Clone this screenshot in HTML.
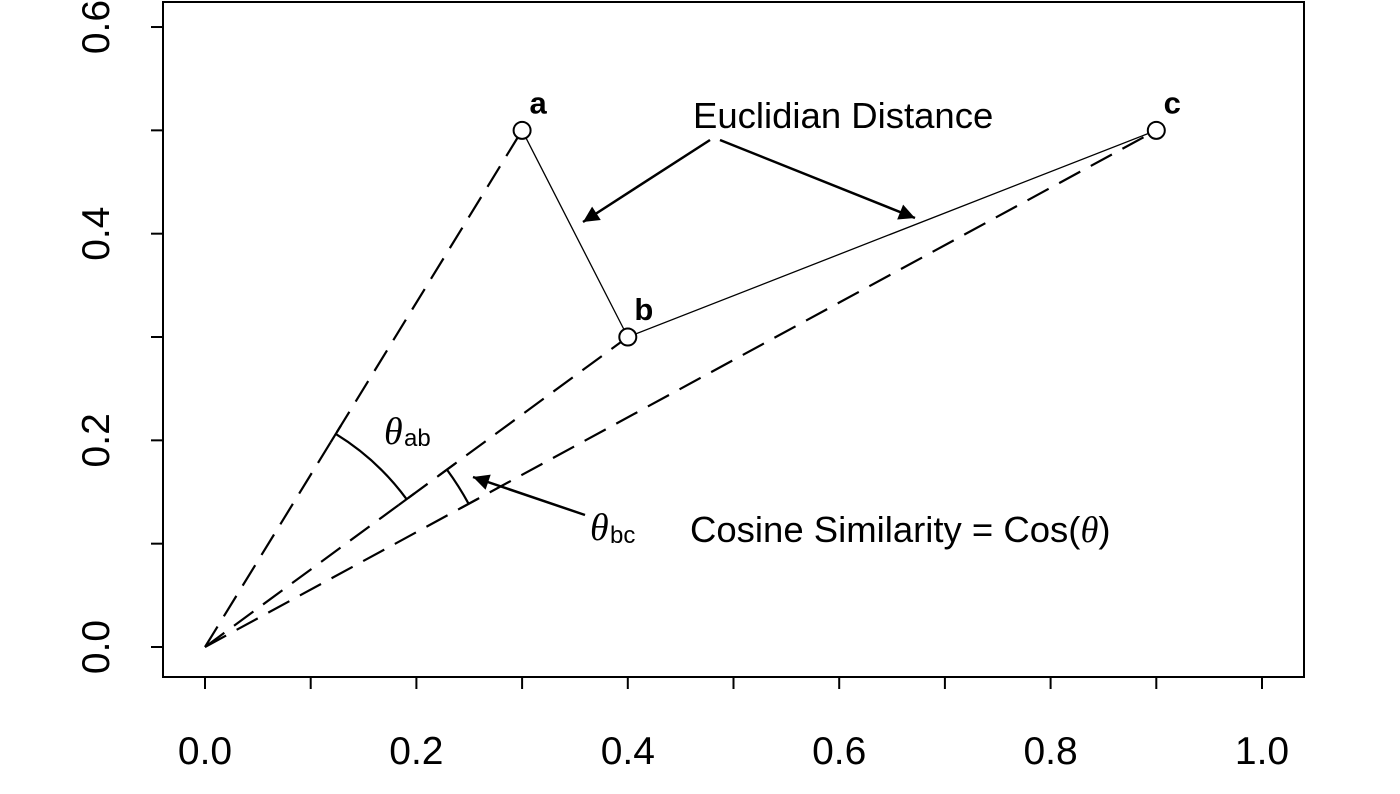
<!DOCTYPE html>
<html><head><meta charset="utf-8"><style>
html,body{margin:0;padding:0;background:#fff;}
svg{display:block;font-family:"Liberation Sans",Arial,sans-serif;}
</style></head><body>
<svg id="chart" width="1400" height="794" viewBox="0 0 1400 794">
<defs><marker id="ah2" viewBox="0 0 10 10" refX="10" refY="5" markerWidth="22" markerHeight="16" markerUnits="userSpaceOnUse" orient="auto"><path d="M0,0 L10,5 L0,10 z" fill="#000"/></marker></defs>
<g id="g"></g>
</svg>
<script>
const pointNames=['a','b','c'];
const pointX=[0.3,0.4,0.9];
const pointY=[0.5,0.3,0.5];
const xTicks=[0,0.1,0.2,0.3,0.4,0.5,0.6,0.7,0.8,0.9,1.0];
const xLabels=['0.0','0.2','0.4','0.6','0.8','1.0'];
const yTicks=[0,0.1,0.2,0.3,0.4,0.5,0.6];
const yLabels=['0.0','0.2','0.4','0.6'];
const X=v=>205+v*1057;
const Y=v=>647-v*1033.3;
const NS='http://www.w3.org/2000/svg';
const g=document.getElementById('g');
function mk(tag,at,txt){const e=document.createElementNS(NS,tag);for(const k in at)e.setAttribute(k,at[k]);if(txt!==undefined)e.textContent=txt;g.appendChild(e);return e;}
let e;
e=mk('rect',{x:163,y:2,width:1141,height:675,fill:'none',stroke:'#000','stroke-width':2});

xTicks.forEach(t=>{e=mk('line',{x1:X(t),x2:X(t),y1:677,y2:689,stroke:'#000','stroke-width':2});
});
xLabels.forEach(l=>{e=mk('text',{x:X(+l),y:764,'font-size':39,'text-anchor':'middle'},l);
});
yTicks.forEach(t=>{e=mk('line',{x1:151,x2:163,y1:Y(t),y2:Y(t),stroke:'#000','stroke-width':2});
});
yLabels.forEach(l=>{const y=Y(+l);e=mk('text',{x:109,y:y,'font-size':39,'text-anchor':'middle',transform:`rotate(-90 109 ${y})`},l);
});
pointX.forEach((px,i)=>{e=mk('line',{x1:X(0),y1:Y(0),x2:X(px),y2:Y(pointY[i]),stroke:'#000','stroke-width':2.2,'stroke-dasharray':'24 12'});
});
for(let i=0;i<pointX.length-1;i++){e=mk('line',{x1:X(pointX[i]),y1:Y(pointY[i]),x2:X(pointX[i+1]),y2:Y(pointY[i+1]),stroke:'#000','stroke-width':1.3});
}
function ang(i){return Math.atan2(Y(pointY[i])-Y(0),X(pointX[i])-X(0));}
function arc(a1,a2,r,name){const x0=X(0),y0=Y(0);
const p1=[x0+r*Math.cos(a1),y0+r*Math.sin(a1)],p2=[x0+r*Math.cos(a2),y0+r*Math.sin(a2)];
e=mk('path',{d:`M${p1[0]},${p1[1]} A${r},${r} 0 0 1 ${p2[0]},${p2[1]}`,fill:'none',stroke:'#000','stroke-width':2.2});

[a1,a2].forEach(a=>{e=mk('line',{x1:x0+(r-10)*Math.cos(a),y1:y0+(r-10)*Math.sin(a),x2:x0+(r+10)*Math.cos(a),y2:y0+(r+10)*Math.sin(a),stroke:'#000','stroke-width':2.2});
});}
arc(ang(0),ang(1),250,'arc-theta-ab');
arc(ang(1),ang(2),300,'arc-theta-bc');
pointX.forEach((px,i)=>{e=mk('circle',{cx:X(px),cy:Y(pointY[i]),r:8.5,fill:'#fff',stroke:'#000','stroke-width':2});

e=mk('text',{x:X(px)+16,y:Y(pointY[i])-17,'font-size':31,'font-weight':'bold','text-anchor':'middle'},pointNames[i]);
});
[[710,140,583,222],[720,140,915,218]].forEach(a=>{e=mk('line',{x1:a[0],y1:a[1],x2:a[2],y2:a[3],stroke:'#000','stroke-width':2.5,'marker-end':'url(#ah2)'});
});
e=mk('line',{x1:585,y1:515,x2:473,y2:477,stroke:'#000','stroke-width':2.5,'marker-end':'url(#ah2)'});

e=mk('text',{x:693,y:128,'font-size':36.5},'Euclidian Distance');

e=mk('text',{x:690,y:542,'font-size':36.5},'Cosine Similarity = Cos(');

const ts=document.createElementNS(NS,'tspan');ts.setAttribute('font-family','"Liberation Serif",serif');ts.setAttribute('font-style','italic');ts.textContent='θ';e.appendChild(ts);
const tc=document.createElementNS(NS,'tspan');tc.textContent=')';e.appendChild(tc);
e=mk('text',{x:384,y:444,'font-size':38,'font-family':'"Liberation Serif",serif','font-style':'italic'},'θ');

e=mk('text',{x:404,y:446,'font-size':24},'ab');

e=mk('text',{x:590,y:540,'font-size':38,'font-family':'"Liberation Serif",serif','font-style':'italic'},'θ');

e=mk('text',{x:610,y:543,'font-size':24},'bc');

</script>
</body></html>
